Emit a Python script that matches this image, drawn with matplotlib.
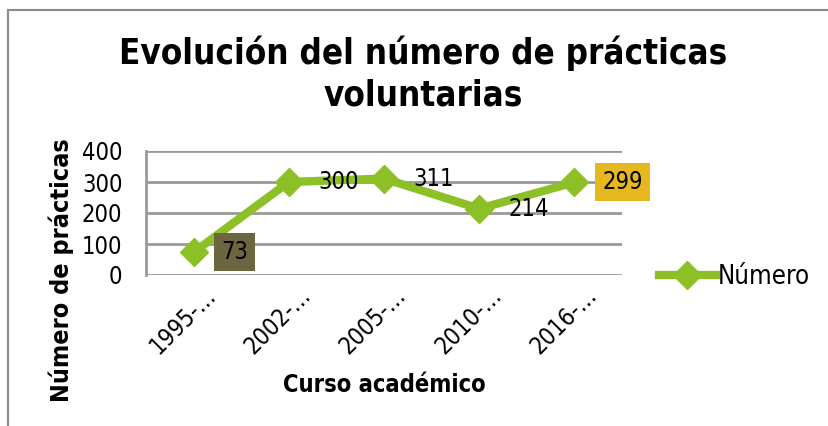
import numpy as np
import matplotlib
matplotlib.use('Agg')
import matplotlib.pyplot as plt
import matplotlib.transforms as mtransforms
from matplotlib.patches import Rectangle

# datos
cursos = ['1995-…', '2002-…', '2005-…', '2010-…', '2016-…']
numero = [73, 300, 311, 214, 299]
serie = 'Número'
yticks = [0, 100, 200, 300, 400]

verde = '#8DC026'
plt.rcParams['font.family'] = ['DejaVu Sans']
plt.rcParams['font.stretch'] = 'condensed'

W, H = 829, 426
fig = plt.figure(figsize=(W / 100, H / 100), dpi=100)

# marco exterior
fig.add_artist(Rectangle((8 / W, -0.1), 1.2, 1 - 10 / H + 0.1, transform=fig.transFigure,
                         fill=False, edgecolor='#8a8a8a', linewidth=1.5))

ax = fig.add_axes([146 / W, 1 - 275 / H, 476 / W, 124 / H])
x = np.arange(len(cursos))
ax.plot(x, numero, color=verde, linewidth=6, marker='D', markersize=14, label=serie)
ax.set_xlim(-0.5, len(cursos) - 0.5)
ax.set_ylim(0, 400)
ax.set_yticks(yticks)
ax.set_yticklabels([str(v) for v in yticks], fontsize=17)
ax.grid(axis='y', color='#999999', linewidth=2)
ax.set_axisbelow(True)
for s in ['top', 'right', 'bottom']:
    ax.spines[s].set_visible(False)
ax.spines['left'].set_color('#999999')
ax.spines['left'].set_linewidth(2)
ax.tick_params(axis='y', length=0, pad=17)
ax.tick_params(axis='x', length=0, pad=6)
ax.set_xticks(x)
ax.set_xticklabels(cursos, rotation=45, ha='right', rotation_mode='anchor', fontsize=17)
desplaza = mtransforms.ScaledTranslation(10 / 100, 0, fig.dpi_scale_trans)
for lab in ax.get_xticklabels():
    lab.set_transform(lab.get_transform() + desplaza)

# etiquetas de datos
cajas = {0: '#6B6540', 4: '#E5B820'}
for i, v in enumerate(numero):
    kw = {}
    dx = 21
    if i in cajas:
        kw['bbox'] = dict(boxstyle='square,pad=0.3', facecolor=cajas[i], edgecolor='none')
        dx = 20
    ax.annotate(str(v), (i, v), xytext=(dx, 0), textcoords='offset points',
                ha='left', va='center', fontsize=17, **kw)

ax.set_ylabel('Número de prácticas', fontsize=18, fontweight='bold')
ax.yaxis.set_label_coords(-0.152, 0.04)
ax.set_xlabel('Curso académico', fontsize=17, fontweight='bold')
ax.xaxis.set_label_coords(0.5, -0.79)

fig.text(423 / W, 1 - 53 / H, 'Evolución del número de prácticas', ha='center', va='center',
         fontsize=25, fontweight='bold')
fig.text(423 / W, 1 - 96 / H, 'voluntarias', ha='center', va='center',
         fontsize=25, fontweight='bold')

ax.legend(loc='center left', bbox_to_anchor=(659 / W, 1 - 277 / H), bbox_transform=fig.transFigure,
          frameon=False, fontsize=18.5, handlelength=2.2, handletextpad=0.1, borderpad=0,
          borderaxespad=0)

fig.savefig('out.png', dpi=100)
